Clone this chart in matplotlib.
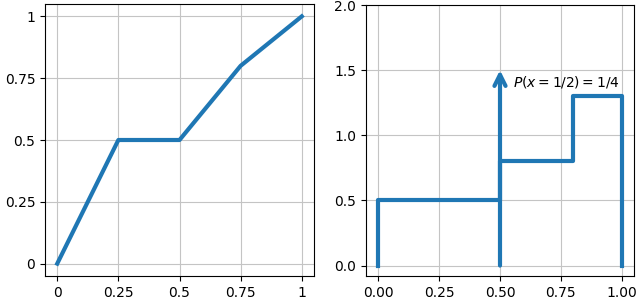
import matplotlib
matplotlib.use("Agg")
import matplotlib.pyplot as plt

# Left: CDF
cdf_x = [0, 0.25, 0.5, 0.75, 1]
cdf_y = [0, 0.5, 0.5, 0.8, 1]
tick_vals = [0, 0.25, 0.5, 0.75, 1]
tick_labels = ["0", "0.25", "0.5", "0.75", "1"]

# Right: PDF (step) with point mass
pdf_x = [0, 0, 0.5, 0.5, 0.8, 0.8, 1, 1]
pdf_y = [0, 0.5, 0.5, 0.8, 0.8, 1.3, 1.3, 0]
mass_x = 0.5
mass_top = 1.5
mass_label = r"$P(x=1/2)=1/4$"

color = "#1f77b4"
fig = plt.figure(figsize=(6.4, 3.01), dpi=100)
ax1 = fig.add_axes([45/640, 1-276/301, (314-45)/640, (276-4)/301])
ax2 = fig.add_axes([366/640, 1-276/301, (634-366)/640, (276-5)/301])

ax1.plot(cdf_x, cdf_y, color=color, lw=3)
ax1.set_xticks(tick_vals)
ax1.set_xticklabels(tick_labels)
ax1.set_yticks(tick_vals)
ax1.set_yticklabels(tick_labels)
ax1.grid(True, color="#c4c4c4")

ax2.plot(pdf_x, pdf_y, color=color, lw=3)
ax2.annotate("", xy=(mass_x, mass_top), xytext=(mass_x, 0),
             arrowprops=dict(arrowstyle="->", color=color, lw=3, mutation_scale=20,
                             shrinkA=0, shrinkB=0))
ax2.text(0.552, 1.41, mass_label, fontsize=10, va="center", ha="left")
ax2.set_ylim(-0.08, 2.0)
ax2.set_xticks([0, 0.25, 0.5, 0.75, 1.0])
ax2.set_yticks([0, 0.5, 1.0, 1.5, 2.0])
ax2.grid(True, color="#c4c4c4")

fig.savefig("out.png", dpi=100)
